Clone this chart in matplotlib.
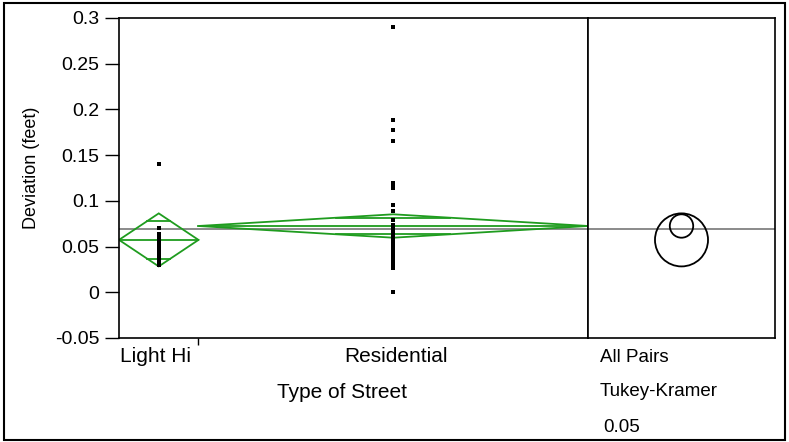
import numpy as np
import matplotlib
matplotlib.use('Agg')
import matplotlib.pyplot as plt
from matplotlib.patches import Polygon, Circle, Rectangle

plt.rcParams['font.family'] = ['Liberation Sans', 'DejaVu Sans']

# data
groups = ['Light Hi', 'Residential']
group_n = [10, 49]
light_hi = [0.14, 0.07, 0.064, 0.061, 0.058, 0.055, 0.052, 0.049, 0.046,
            0.043, 0.040, 0.037, 0.033, 0.030]
residential = [0.29, 0.188, 0.178, 0.165, 0.12, 0.117, 0.114, 0.096, 0.089,
               0.0795, 0.074, 0.071, 0.068, 0.064, 0.061, 0.058, 0.055, 0.052,
               0.049, 0.046, 0.043, 0.040, 0.037, 0.033, 0.030, 0.027, 0.0]
group_mean = [0.0573, 0.0725]
group_ci = [0.029, 0.0128]
grand_mean = 0.0688

yticks = [-0.05, 0, 0.05, 0.1, 0.15, 0.2, 0.25, 0.3]
ytick_labels = ['-0.05', '0', '0.05', '0.1', '0.15', '0.2', '0.25', '0.3']

W, H = 789, 442
green = '#1f9c1f'
gray = '#8a8a8a'

fig = plt.figure(figsize=(W/100, H/100), dpi=100)

def box(l, t, r, b):
    return [l/W, 1 - b/H, (r-l)/W, (b-t)/H]

ax = fig.add_axes(box(119, 18, 588, 338))
ax2 = fig.add_axes(box(588, 18, 775, 338), sharey=ax)

N = sum(group_n)
edges = np.concatenate([[0], np.cumsum(group_n)])
ax.set_xlim(0, N)
ax.set_ylim(-0.05, 0.3)

ax.axhline(grand_mean, color=gray, lw=1.4, zorder=1)

for i, vals in enumerate([light_hi, residential]):
    x0, x1 = edges[i], edges[i+1]
    xc = (x0 + x1) / 2
    m, h = group_mean[i], group_ci[i]
    ax.add_patch(Polygon([(x0, m), (xc, m+h), (x1, m), (xc, m-h)], closed=True,
                         fill=False, edgecolor=green, lw=1.3, zorder=2))
    ax.plot([x0, x1], [m, m], color=green, lw=1.3, zorder=2)
    hw = (x1 - x0) / 2 * (1 - 1/np.sqrt(2))
    for s in (1, -1):
        ax.plot([xc-hw, xc+hw], [m + s*h/np.sqrt(2)]*2, color=green, lw=1.3, zorder=2)
    ax.plot([xc]*len(vals), vals, 's', color='black', ms=2.4, mew=0, zorder=3)

ax.set_yticks(yticks)
ax.set_yticklabels(ytick_labels)
ax.tick_params(axis='y', direction='out', length=10, width=1, pad=4, labelsize=14)
ax.set_xticks([edges[1]])
ax.set_xticklabels([])
ax.tick_params(axis='x', direction='out', length=5, width=1)

# Tukey-Kramer comparison circles
ax2.axhline(grand_mean, color=gray, lw=1.4, zorder=1)
pw = 775 - 588
ph = 338 - 18
half = pw / ph * 0.35 / 2
ax2.set_xlim(-half, half)
for m, r in zip(group_mean, group_ci):
    ax2.add_patch(Circle((0, m), r, fill=False, edgecolor='black', lw=1.3, zorder=2))
ax2.tick_params(left=False, labelleft=False, bottom=False, labelbottom=False)

for a in (ax, ax2):
    for sp in a.spines.values():
        sp.set_linewidth(1.2)
        sp.set_color('black')

# axis labels as in the original layout
fig.text(31/W, 1 - 168/H, 'Deviation (feet)', fontsize=13, rotation=90,
         ha='center', va='center')
fig.text(120/W, 1 - 357/H, 'Light Hi', fontsize=15, ha='left', va='center')
fig.text(396/W, 1 - 357/H, 'Residential', fontsize=15, ha='center', va='center')
fig.text(342/W, 1 - 392/H, 'Type of Street', fontsize=15, ha='center', va='center')
fig.text(600/W, 1 - 357/H, 'All Pairs', fontsize=13.5, ha='left', va='center')
fig.text(600/W, 1 - 392/H, 'Tukey-Kramer', fontsize=13.5, ha='left', va='center')
fig.text(603/W, 1 - 428/H, '0.05', fontsize=13.5, ha='left', va='center')

fig.patches.append(Rectangle((4/W, 2/H), 781/W, 437/H, transform=fig.transFigure,
                             fill=False, edgecolor='black', lw=1.5))

fig.savefig('out.png', dpi=100)
